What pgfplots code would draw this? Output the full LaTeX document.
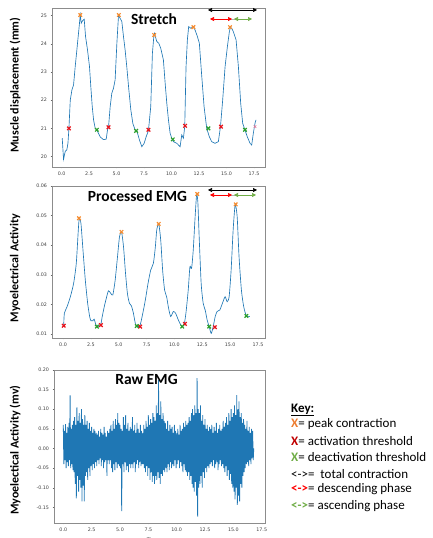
\documentclass[border=0pt]{standalone}
\usepackage{fontspec}
\setmainfont{Carlito}
\newfontfamily\tickfont{DejaVu Sans}
\usepackage{pgfplots}
\pgfplotsset{compat=1.18}
\usetikzlibrary{arrows.meta}
\definecolor{mplblue}{HTML}{1F77B4}
\definecolor{mkorange}{HTML}{F58B2E}
\definecolor{mkred}{HTML}{E8141C}
\definecolor{mkgreen}{HTML}{2CA02C}
\definecolor{keygreen}{HTML}{70AD47}
\definecolor{keyorange}{HTML}{ED7D31}
\definecolor{keyred}{HTML}{C00000}

\pgfplotsset{
  panel/.style={
    scale only axis, anchor=south west,
    axis line style={black!45, line width=0.4pt},
    tick style={black!60, line width=0.3pt},
    tick align=outside, major tick length=1.5pt,
    xtick pos=bottom, ytick pos=left,
    ticklabel style={font=\tickfont\fontsize{4.8}{5.5}\selectfont, text=black!75},
    /pgf/number format/assume math mode=true,
    scaled y ticks=false, scaled x ticks=false,
    xtick={0,2.5,5,7.5,10,12.5,15,17.5},
    xticklabel style={/pgf/number format/fixed, /pgf/number format/fixed zerofill, /pgf/number format/precision=1},
  },
  ytwo/.style={yticklabel style={/pgf/number format/fixed, /pgf/number format/fixed zerofill, /pgf/number format/precision=2}},
  mk/.style={only marks, mark=x, mark size=2.5pt, line width=1.2pt, color=#1},
}

\begin{document}
\begin{tikzpicture}[x=1pt,y=1pt]
\clip (0,0) rectangle (432,538);
\path[use as bounding box] (0,0) rectangle (432,538);

% ---- Stretch ----
\begin{axis}[panel, at={(52pt,371pt)}, width=213pt, height=159pt,
  xmin=-0.87, xmax=18.5, ymin=19.63, ymax=25.27,
  ytick={20,21,22,23,24,25}]
\addplot[mplblue, line width=0.65pt] coordinates {
(0.06,20.65)(0.18,19.90)(0.33,20.18)(0.48,20.24)(0.58,20.47)(0.67,21.00)(0.79,22.00)(0.94,22.36)(1.09,22.54)(1.24,23.19)(1.39,23.78)(1.57,24.49)(1.70,25.02)(1.79,24.73)(1.91,24.82)(2.06,24.87)(2.18,24.26)(2.36,23.78)(2.54,23.19)(2.66,22.48)(2.79,21.77)(2.91,21.30)(3.06,21.00)(3.21,20.94)(3.51,20.70)(3.81,20.60)(4.06,20.62)(4.18,20.95)(4.27,21.04)(4.42,21.77)(4.57,22.25)(4.72,22.42)(4.87,22.72)(5.03,24.02)(5.18,25.02)(5.33,24.90)(5.48,24.79)(5.63,24.26)(5.78,23.78)(5.93,23.19)(6.12,22.36)(6.30,21.65)(6.48,21.18)(6.69,20.94)(6.84,20.92)(7.08,20.59)(7.30,20.35)(7.51,20.47)(7.69,20.70)(7.90,20.92)(8.11,21.77)(8.26,23.66)(8.39,24.26)(8.45,24.37)(8.66,24.08)(8.84,24.02)(9.02,23.84)(9.26,23.43)(9.42,22.60)(9.57,21.89)(9.72,21.30)(9.87,20.83)(10.02,20.65)(10.17,20.53)(10.48,20.47)(10.78,20.35)(10.93,20.77)(11.08,20.65)(11.20,21.06)(11.32,23.19)(11.44,24.14)(11.56,24.61)(11.75,24.55)(11.99,24.61)(12.14,24.49)(12.35,24.26)(12.53,24.02)(12.75,22.84)(12.96,21.77)(13.20,21.00)(13.44,20.70)(13.65,20.53)(13.96,20.47)(14.26,20.53)(14.45,21.06)(14.65,22.00)(14.87,23.19)(15.08,23.90)(15.26,24.43)(15.35,24.58)(15.47,24.55)(15.62,24.43)(15.87,24.14)(16.08,23.19)(16.29,21.89)(16.47,21.18)(16.68,20.94)(16.89,20.70)(17.14,20.47)(17.29,20.41)(17.44,20.83)(17.59,21.18)(17.68,21.30)
};
\addplot[mk=mkorange] coordinates {(1.70,25.02)(5.21,25.02)(8.42,24.31)(11.99,24.59)(15.32,24.59)};
\addplot[mk=mkred] coordinates {(0.67,21.00)(4.27,21.04)(7.90,20.95)(11.23,21.09)(14.50,21.06)};
\addplot[mk=mkgreen] coordinates {(3.21,20.95)(6.78,20.91)(10.11,20.61)(13.35,21.00)(16.68,20.95)};
\addplot[mk=purple!50, mark size=1.8pt, line width=0.8pt] coordinates {(17.59,21.06)};
\end{axis}

% ---- Processed EMG ----
\begin{axis}[panel, ytwo, at={(52pt,200pt)}, width=213pt, height=152pt,
  xmin=-0.99, xmax=18.13, ymin=0.00865, ymax=0.06,
  ytick={0.01,0.02,0.03,0.04,0.05,0.06}]
\addplot[mplblue, line width=0.65pt, smooth, tension=0.4] coordinates {
(0.06,0.0128)(0.12,0.0170)(0.36,0.0192)(0.66,0.0226)(0.95,0.0271)(1.19,0.0339)(1.37,0.0451)(1.46,0.0491)(1.61,0.0473)(1.79,0.0384)(2.00,0.0282)(2.21,0.0204)(2.39,0.0159)(2.50,0.0145)(2.68,0.0145)(2.80,0.0150)(2.92,0.0134)(3.04,0.0125)(3.22,0.0125)(3.40,0.0134)(3.52,0.0159)(3.70,0.0192)(3.88,0.0220)(4.08,0.0246)(4.29,0.0237)(4.47,0.0232)(4.68,0.0282)(4.89,0.0361)(5.07,0.0429)(5.25,0.0445)(5.43,0.0395)(5.61,0.0305)(5.78,0.0237)(5.96,0.0204)(6.14,0.0195)(6.32,0.0170)(6.50,0.0134)(6.68,0.0125)(6.92,0.0130)(7.16,0.0170)(7.39,0.0215)(7.63,0.0271)(7.87,0.0316)(8.11,0.0339)(8.29,0.0395)(8.41,0.0451)(8.59,0.0472)(8.77,0.0417)(8.94,0.0316)(9.12,0.0248)(9.30,0.0226)(9.45,0.0192)(9.66,0.0159)(9.90,0.0176)(10.11,0.0170)(10.29,0.0153)(10.49,0.0136)(10.70,0.0125)(10.88,0.0134)(11.03,0.0170)(11.24,0.0249)(11.39,0.0327)(11.54,0.0322)(11.69,0.0384)(11.84,0.0485)(11.99,0.0570)(12.10,0.0547)(12.22,0.0429)(12.40,0.0271)(12.58,0.0204)(12.76,0.0181)(12.94,0.0147)(13.12,0.0125)(13.30,0.0102)(13.48,0.0125)(13.66,0.0159)(13.83,0.0176)(14.07,0.0181)(14.31,0.0204)(14.55,0.0226)(14.73,0.0209)(14.91,0.0226)(15.09,0.0316)(15.27,0.0451)(15.45,0.0536)(15.63,0.0497)(15.80,0.0361)(16.01,0.0249)(16.22,0.0192)(16.46,0.0161)(16.76,0.0159)
};
\addplot[mk=mkorange] coordinates {(1.43,0.0491)(5.25,0.0445)(8.59,0.0472)(12.05,0.0573)(15.50,0.0538)};
\addplot[mk=mkred] coordinates {(0.06,0.0128)(3.40,0.0130)(6.92,0.0125)(10.94,0.0134)(13.63,0.0123)};
\addplot[mk=mkgreen] coordinates {(3.04,0.0125)(6.62,0.0127)(10.70,0.0125)(13.12,0.0125)(16.46,0.0161)};
\end{axis}

% ---- Raw EMG ----
\begin{axis}[panel, ytwo, at={(54pt,15pt)}, width=211pt, height=153pt,
  xmin=-0.82, xmax=17.79, ymin=-0.19, ymax=0.20,
  ytick={-0.15,-0.10,-0.05,0,0.05,0.10,0.15,0.20}]
\addplot[mplblue, line width=0.8pt] coordinates {
(0.00,0.060)(0.05,-0.040)(0.10,0.045)(0.15,-0.030)(0.20,0.062)(0.25,-0.050)(0.30,0.040)(0.35,-0.035)(0.40,0.055)(0.45,-0.045)(0.50,0.065)(0.55,-0.030)(0.60,0.135)(0.65,-0.050)(0.70,0.050)(0.75,-0.040)(0.80,0.060)(0.85,-0.055)(0.90,0.070)(0.95,-0.060)
(1.00,0.080)(1.05,-0.090)(1.10,0.060)(1.15,-0.127)(1.20,0.105)(1.25,-0.070)(1.30,0.070)(1.35,-0.110)(1.40,0.090)(1.45,-0.080)(1.50,0.065)(1.55,-0.100)(1.60,0.100)(1.65,-0.135)(1.70,0.075)(1.75,-0.095)(1.80,0.060)(1.85,-0.135)(1.90,0.085)(1.95,-0.070)
(2.00,0.060)(2.05,-0.060)(2.10,0.070)(2.15,-0.080)(2.20,0.050)(2.25,-0.050)(2.30,0.065)(2.35,-0.070)(2.40,0.045)(2.45,-0.045)(2.50,0.055)(2.55,-0.055)(2.60,0.040)(2.65,-0.040)(2.70,0.050)(2.75,-0.050)(2.80,0.045)(2.85,-0.035)(2.90,0.040)(2.95,-0.045)
(3.00,0.035)(3.05,-0.030)(3.10,0.045)(3.15,-0.040)(3.20,0.030)(3.25,-0.025)(3.30,0.050)(3.35,-0.045)(3.40,0.040)(3.45,-0.030)(3.50,0.035)(3.55,-0.050)(3.60,0.055)(3.65,-0.035)(3.70,0.040)(3.75,-0.030)(3.80,0.030)(3.85,-0.070)(3.90,0.045)(3.95,-0.030)
(4.00,0.040)(4.05,-0.040)(4.10,0.050)(4.15,-0.030)(4.20,0.060)(4.25,-0.050)(4.30,0.045)(4.35,-0.060)(4.40,0.070)(4.45,-0.040)(4.50,0.050)(4.55,-0.055)(4.60,0.075)(4.65,-0.035)(4.70,0.060)(4.75,-0.050)(4.80,0.090)(4.85,-0.040)(4.90,0.065)(4.95,-0.045)
(5.00,0.060)(5.05,-0.050)(5.10,0.050)(5.15,-0.160)(5.20,0.045)(5.25,-0.040)(5.30,0.080)(5.35,-0.060)(5.40,0.060)(5.45,-0.035)(5.50,0.085)(5.55,-0.055)(5.60,0.050)(5.65,-0.045)(5.70,0.065)(5.75,-0.060)(5.80,0.045)(5.85,-0.040)(5.90,0.055)(5.95,-0.050)
(6.00,0.050)(6.05,-0.040)(6.10,0.080)(6.15,-0.050)(6.20,0.045)(6.25,-0.035)(6.30,0.060)(6.35,-0.060)(6.40,0.040)(6.45,-0.040)(6.50,0.065)(6.55,-0.030)(6.60,0.050)(6.65,-0.050)(6.70,0.040)(6.75,-0.035)(6.80,0.060)(6.85,-0.045)(6.90,0.045)(6.95,-0.040)
(7.00,0.040)(7.05,-0.040)(7.10,0.060)(7.15,-0.050)(7.20,0.050)(7.25,-0.060)(7.30,0.070)(7.35,-0.045)(7.40,0.055)(7.45,-0.070)(7.50,0.085)(7.55,-0.050)(7.60,0.060)(7.65,-0.080)(7.70,0.075)(7.75,-0.060)(7.80,0.065)(7.85,-0.085)(7.90,0.090)(7.95,-0.070)
(8.00,0.080)(8.05,-0.090)(8.10,0.070)(8.15,-0.070)(8.20,0.110)(8.25,-0.080)(8.30,0.090)(8.35,-0.060)(8.40,0.174)(8.45,-0.075)(8.50,0.085)(8.55,-0.090)(8.60,0.120)(8.65,-0.065)(8.70,0.075)(8.75,-0.070)(8.80,0.090)(8.85,-0.055)(8.90,0.070)(8.95,-0.060)
(9.00,0.065)(9.05,-0.050)(9.10,0.050)(9.15,-0.060)(9.20,0.070)(9.25,-0.040)(9.30,0.045)(9.35,-0.055)(9.40,0.060)(9.45,-0.035)(9.50,0.050)(9.55,-0.050)(9.60,0.055)(9.65,-0.040)(9.70,0.040)(9.75,-0.045)(9.80,0.060)(9.85,-0.030)(9.90,0.045)(9.95,-0.050)
(10.00,0.040)(10.05,-0.040)(10.10,0.050)(10.15,-0.030)(10.20,0.035)(10.25,-0.050)(10.30,0.060)(10.35,-0.035)(10.40,0.045)(10.45,-0.045)(10.50,0.050)(10.55,-0.060)(10.60,0.065)(10.65,-0.040)(10.70,0.055)(10.75,-0.055)(10.80,0.070)(10.85,-0.060)(10.90,0.060)(10.95,-0.070)
(11.00,0.065)(11.05,-0.060)(11.10,0.080)(11.15,-0.080)(11.20,0.070)(11.25,-0.070)(11.30,0.090)(11.35,-0.090)(11.40,0.100)(11.45,-0.100)(11.50,0.085)(11.55,-0.110)(11.60,0.110)(11.65,-0.085)(11.70,0.090)(11.75,-0.120)(11.80,0.179)(11.85,-0.174)(11.90,0.100)(11.95,-0.100)
(12.00,0.090)(12.05,-0.090)(12.10,0.110)(12.15,-0.070)(12.20,0.070)(12.25,-0.100)(12.30,0.085)(12.35,-0.060)(12.40,0.060)(12.45,-0.075)(12.50,0.075)(12.55,-0.050)(12.60,0.050)(12.65,-0.060)(12.70,0.060)(12.75,-0.045)(12.80,0.045)(12.85,-0.050)(12.90,0.055)(12.95,-0.040)
(13.00,0.050)(13.05,-0.035)(13.10,0.060)(13.15,-0.045)(13.20,0.040)(13.25,-0.030)(13.30,0.055)(13.35,-0.050)(13.40,0.045)(13.45,-0.040)(13.50,0.065)(13.55,-0.035)(13.60,0.040)(13.65,-0.055)(13.70,0.050)(13.75,-0.040)(13.80,0.060)(13.85,-0.030)(13.90,0.045)(13.95,-0.045)
(14.00,0.050)(14.05,-0.040)(14.10,0.070)(14.15,-0.050)(14.20,0.055)(14.25,-0.060)(14.30,0.065)(14.35,-0.045)(14.40,0.080)(14.45,-0.070)(14.50,0.060)(14.55,-0.055)(14.60,0.090)(14.65,-0.080)(14.70,0.070)(14.75,-0.065)(14.80,0.100)(14.85,-0.090)(14.90,0.080)(14.95,-0.100)
(15.00,0.090)(15.05,-0.110)(15.10,0.110)(15.15,-0.130)(15.20,0.085)(15.25,-0.100)(15.30,0.136)(15.35,-0.144)(15.40,0.100)(15.45,-0.120)(15.50,0.120)(15.55,-0.135)(15.60,0.080)(15.65,-0.090)(15.70,0.090)(15.75,-0.100)(15.80,0.065)(15.85,-0.070)(15.90,0.075)(15.95,-0.060)
(16.00,0.060)(16.05,-0.050)(16.10,0.050)(16.15,-0.040)(16.20,0.070)(16.25,-0.035)(16.30,0.045)(16.35,-0.045)(16.40,0.055)(16.45,-0.030)(16.50,0.040)(16.55,-0.040)(16.60,0.050)(16.65,-0.025)(16.70,0.045)(16.75,-0.030)(16.80,0.000)
};
\end{axis}

% y labels
\begin{scope}[every node/.style={rotate=90, font=\bfseries\fontsize{12}{14}\selectfont}]
\node at (15,453) {Muscle displacement (mm)};
\node at (15,270) {Myoelectrical Activity};
\node at (15,88) {Myoelectical Activity (mv)};
\end{scope}
\node[anchor=north, font=\tickfont\fontsize{5}{6}\selectfont, text=black!75] at (153,4) {Time};

% panel titles
\node[font=\bfseries\fontsize{15.5}{18}\selectfont] at (154,519) {Stretch};
\node[font=\bfseries\fontsize{15.5}{18}\selectfont] at (137.5,342) {Processed EMG};
\node[font=\bfseries\fontsize{15.5}{18}\selectfont] at (146.5,159) {Raw EMG};

% phase arrows
\foreach \yb/\yc/\xe in {528/519/252, 348/343/256}{
  \draw[black, line width=0.6pt, {Triangle[length=4pt,width=4pt]}-{Triangle[length=4pt,width=4pt]}] (208,\yb) -- (257,\yb);
  \draw[black!30, line width=0.5pt] (214,\yc) -- (\xe-5,\yc);
  \draw[red, line width=0.6pt, {Triangle[length=4pt,width=4pt]}-{Triangle[length=4pt,width=4pt]}] (210,\yc) -- (232,\yc);
  \draw[keygreen, line width=0.6pt, {Triangle[length=4pt,width=4pt]}-{Triangle[length=4pt,width=4pt]}] (234,\yc) -- (\xe,\yc);
}

% key
\begin{scope}[every node/.style={anchor=west, inner sep=0pt, font=\fontsize{13}{15}\selectfont}]
\node at (291,128) {\textbf{\underline{Key:}}};
\node at (291,114) {\textcolor{keyorange}{\textbf{X}}= peak contraction};
\node at (291,97) {\textcolor{keyred}{\textbf{X}}= activation threshold};
\node at (291,81) {\textcolor{keygreen}{\textbf{X}}= deactivation threshold};
\node at (291,64) {<->=\ \ total contraction};
\node at (291,49) {\textcolor{red}{\textbf{<->}}= descending phase};
\node at (291,32) {\textcolor{keygreen}{\textbf{<->}}= ascending phase};
\end{scope}
\end{tikzpicture}
\end{document}
